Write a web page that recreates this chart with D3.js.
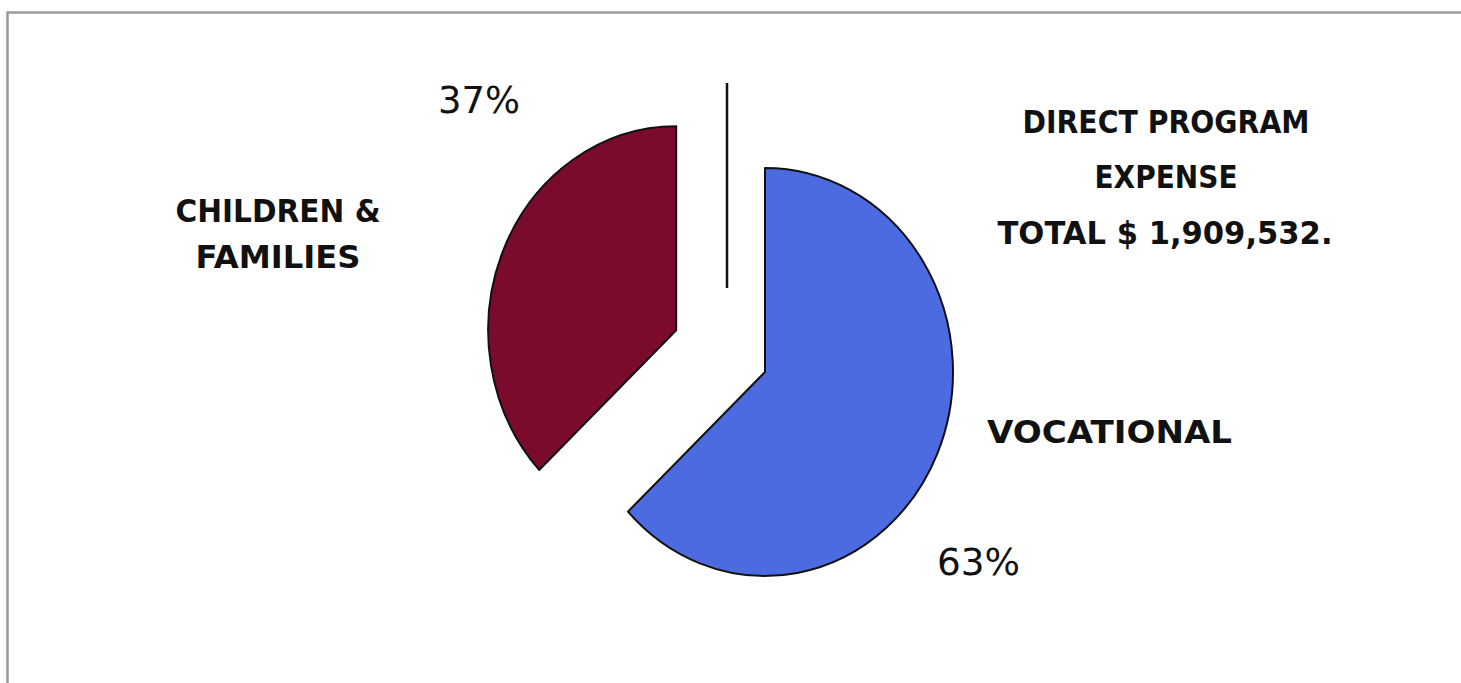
<!DOCTYPE html>
<html>
<head>
<meta charset="utf-8">
<script src="https://cdn.jsdelivr.net/npm/d3@7"></script>
<style>
  html, body { margin: 0; padding: 0; background: #fff; }
  svg { display: block; }
  text { font-family: "Comic Sans MS", "DejaVu Sans", sans-serif; fill: #111; }
</style>
</head>
<body>
<svg id="chart" width="1461" height="683"></svg>
<script>
// Program expense split
const categories = ["VOCATIONAL", "CHILDREN & FAMILIES"];
const percents = [63, 37];
const totalExpense = 1909532;
const titleLines = ["DIRECT PROGRAM", "EXPENSE"];

const colors = ["#4d6be0", "#7b0b2c"];

const svg = d3.select("#chart");

// outer frame
svg.append("rect")
  .attr("x", 7.5).attr("y", 12.5)
  .attr("width", 1480).attr("height", 700)
  .attr("fill", "none")
  .attr("stroke", "#9a9a9a")
  .attr("stroke-width", 2.5);

// pie geometry
const cx = 765, cy = 372, radius = 204, xSquash = 188 / 204, explode = 105;

const pie = d3.pie().sort(null).value(d => d)(percents);
const arc = d3.arc().innerRadius(0).outerRadius(radius);

const pieG = svg.append("g")
  .attr("transform", `translate(${cx},${cy}) scale(${xSquash},1)`);

pieG.selectAll("path.slice")
  .data(pie)
  .join("path")
  .attr("class", "slice")
  .attr("d", arc)
  .attr("transform", (d, i) => {
    if (i !== 1) return null;
    const mid = (d.startAngle + d.endAngle) / 2;
    return `translate(${Math.sin(mid) * explode},${-Math.cos(mid) * explode})`;
  })
  .attr("fill", (d, i) => colors[i])
  .attr("stroke", "#111")
  .attr("stroke-width", 2)
  .attr("stroke-linejoin", "round")
  .attr("vector-effect", "non-scaling-stroke");

// leader line
svg.append("line")
  .attr("x1", 727).attr("x2", 727)
  .attr("y1", 83).attr("y2", 288)
  .attr("stroke", "#111")
  .attr("stroke-width", 2.5);

// text helper: bold caption fitted to a given width
function caption(str, x, y, width, anchor, opts = {}) {
  const t = svg.append("text")
    .attr("x", x).attr("y", y)
    .attr("text-anchor", anchor)
    .attr("font-size", opts.size || 32)
    .attr("font-weight", opts.weight || "bold")
    .text(str);
  if (width) t.attr("textLength", width).attr("lengthAdjust", "spacingAndGlyphs");
  return t;
}

// title block
const fmt = d3.format(",");
caption(titleLines[0], 1166, 133, 287, "middle");
caption(titleLines[1], 1166, 188, 143, "middle");
caption(`TOTAL $ ${fmt(totalExpense)}.`, 1165, 244, 335, "middle");

// category labels
const famWords = categories[1].split(" ");
caption(famWords.slice(0, 2).join(" "), 278, 222, 205, "middle");
caption(famWords.slice(2).join(" "), 278, 268, 165, "middle");
caption(categories[0], 987, 443, 245, "start");

// percentage labels
caption(`${percents[1]}%`, 438, 113, 82, "start", { size: 38, weight: "normal" });
caption(`${percents[0]}%`, 937, 575, 83, "start", { size: 38, weight: "normal" });
</script>
</body>
</html>
